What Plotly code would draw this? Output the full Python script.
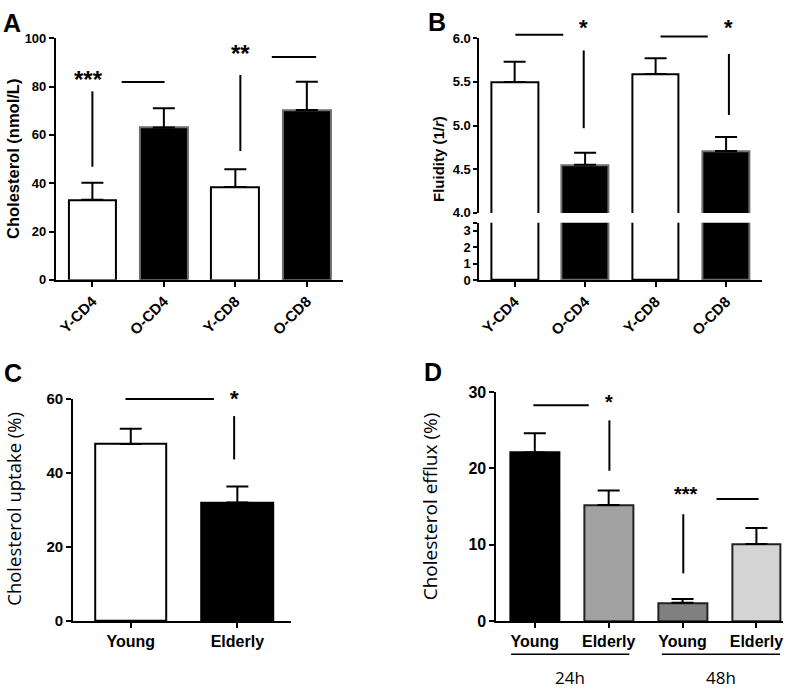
import plotly.graph_objects as go

# ---- data ----
cell_groups = ["Y-CD4", "O-CD4", "Y-CD8", "O-CD8"]
chol_mean = [33.1, 63.0, 38.4, 70.3]
chol_sem = [7.1, 8.0, 7.4, 11.7]

fluid_mean = [5.50, 4.55, 5.59, 4.71]
fluid_sem = [0.23, 0.14, 0.18, 0.16]

uptake_groups = ["Young", "Elderly"]
uptake_mean = [47.8, 32.0]
uptake_sem = [4.1, 4.3]

efflux_groups = ["Young", "Elderly", "Young", "Elderly"]
efflux_times = ["24h", "48h"]
efflux_mean = [22.1, 15.2, 2.4, 10.1]
efflux_sem = [2.5, 1.9, 0.5, 2.1]

BOLD = "Liberation Sans"
PLAIN = "Open Sans"

# ---- panel geometry (paper fractions) ----
W, H = 794, 698
def hx(p): return p / W
def vy(p): return 1 - p / H

dom = {
    "A": ([hx(55), hx(342)], [vy(278), vy(30)]),
    "Bu": ([hx(479), hx(762)], [vy(209.3), vy(30)]),
    "Bl": ([hx(479), hx(762)], [vy(278.3), vy(219.3)]),
    "C": ([hx(72.3), hx(290)], [vy(628.3), vy(400)]),
    "D": ([hx(496), hx(783)], [vy(628.3), vy(393.3)]),
}
xr = {"A": [-0.51, 3.5], "B": [-0.5, 3.51], "C": [-0.54, 1.5], "D": [-0.52, 3.36]}
yr = {"A": [0, 100], "Bu": [4, 6], "Bl": [0, 3.5], "C": [0, 60], "D": [0, 30]}


def to_paper(d, r, v):
    return d[0] + (v - r[0]) / (r[1] - r[0]) * (d[1] - d[0])


def bar_trace(means, sems, fills, edges, width, xa, ya, errors=True):
    return go.Bar(
        x=list(range(len(means))), y=means, width=width,
        marker=dict(color=fills, line=dict(color=edges, width=2)),
        error_y=dict(type="data", symmetric=False, array=sems,
                     arrayminus=[0] * len(sems), thickness=2, width=11,
                     color="black", visible=errors),
        xaxis=xa, yaxis=ya, showlegend=False, hoverinfo="skip",
    )


fig = go.Figure()
wb = ["white", "black", "white", "black"]
edges_wb = ["black", "#6e6e6e", "black", "#6e6e6e"]
fig.add_trace(bar_trace(chol_mean, chol_sem, wb, edges_wb, 0.67, "x", "y"))
fig.add_trace(bar_trace(fluid_mean, fluid_sem, wb, edges_wb, 0.66, "x2", "y2"))
fig.add_trace(bar_trace(fluid_mean, fluid_sem, wb, edges_wb, 0.66, "x3", "y3", errors=False))
fig.add_trace(bar_trace(uptake_mean, uptake_sem, ["white", "black"], ["black", "black"], 0.67, "x4", "y4"))
fig.add_trace(bar_trace(efflux_mean, efflux_sem, ["black", "#a2a2a2", "#808080", "#d4d4d4"],
                        ["black", "#222222", "#222222", "#222222"], 0.66, "x5", "y5"))


def xaxis(d, r, labels, anchor, angle=0, size=14, visible=True):
    return dict(domain=d, range=r, anchor=anchor, visible=visible,
                tickvals=list(range(len(labels))), ticktext=labels, tickangle=angle,
                showline=True, linecolor="black", linewidth=2,
                ticks="outside", ticklen=5, tickwidth=2, tickcolor="black",
                showgrid=False, zeroline=False, fixedrange=True,
                tickfont=dict(family=BOLD, size=size, color="black", weight="bold"))


def yaxis(d, r, vals, texts, anchor, size=12, ticklen=5):
    return dict(domain=d, range=r, anchor=anchor,
                tickvals=vals, ticktext=texts,
                showline=True, linecolor="black", linewidth=2,
                ticks="outside", ticklen=ticklen, tickwidth=2, tickcolor="black",
                showgrid=False, zeroline=False, fixedrange=True,
                tickfont=dict(family=BOLD, size=size, color="black", weight="bold"))


fig.update_layout(
    width=W, height=H, margin=dict(l=0, r=0, t=0, b=0),
    paper_bgcolor="white", plot_bgcolor="white", bargap=0,
    xaxis=xaxis(dom["A"][0], xr["A"], cell_groups, "y", angle=-45, size=15),
    yaxis=yaxis(dom["A"][1], yr["A"], [0, 20, 40, 60, 80, 100],
                ["0", "20", "40", "60", "80", "100"], "x", size=13),
    xaxis2=xaxis(dom["Bu"][0], xr["B"], cell_groups, "y2", visible=False),
    yaxis2=yaxis(dom["Bu"][1], yr["Bu"], [4, 4.5, 5, 5.5, 6],
                 ["4.0", "4.5", "5.0", "5.5", "6.0"], "x2", size=13, ticklen=4),
    xaxis3=xaxis(dom["Bl"][0], xr["B"], cell_groups, "y3", angle=-45, size=15),
    yaxis3=yaxis(dom["Bl"][1], yr["Bl"], [0, 1, 2, 3, 3.5],
                 ["0", "1", "2", "3", ""], "x3", size=13, ticklen=4),
    xaxis4=xaxis(dom["C"][0], xr["C"], uptake_groups, "y4", size=16),
    yaxis4=yaxis(dom["C"][1], yr["C"], [0, 20, 40, 60], ["0", "20", "40", "60"], "x4", size=15),
    xaxis5=xaxis(dom["D"][0], xr["D"], efflux_groups, "y5", size=16),
    yaxis5=yaxis(dom["D"][1], yr["D"], [0, 10, 20, 30], ["0", "10", "20", "30"], "x5", size=16),
)

# ---- significance marks (in data units of each panel) ----
sig_lines = [
    ("A", "A", 0, 0, 46.8, 78), ("A", "A", 0.41, 1.01, 81.9, 81.9),
    ("A", "A", 2.07, 2.07, 53.3, 84.8), ("A", "A", 2.51, 3.13, 92.2, 92.2),
    ("B", "Bu", 0.01, 0.69, 6.04, 6.04), ("B", "Bu", 0.98, 0.98, 4.97, 5.86),
    ("B", "Bu", 2.07, 2.74, 6.02, 6.02), ("B", "Bu", 3.04, 3.04, 5.12, 5.82),
    ("C", "C", -0.05, 0.78, 59.9, 59.9), ("C", "C", 0.97, 0.97, 43.6, 55.3),
    ("D", "D", -0.02, 0.73, 28.3, 28.3), ("D", "D", 1.01, 1.01, 19.7, 26.3),
    ("D", "D", 2.01, 2.01, 6.26, 14.0), ("D", "D", 2.46, 3.03, 16.0, 16.0),
]
for px_, py_, x0, x1, y0, y1 in sig_lines:
    dx = dom[py_][0]
    dy = dom[py_][1]
    fig.add_shape(type="line", xref="paper", yref="paper",
                  x0=to_paper(dx, xr[px_], x0), x1=to_paper(dx, xr[px_], x1),
                  y0=to_paper(dy, yr[py_], y0), y1=to_paper(dy, yr[py_], y1),
                  line=dict(color="black", width=2))

stars = [
    ("A", "A", -0.05, 83, "***", 24), ("A", "A", 2.07, 93.5, "**", 24),
    ("B", "Bu", 0.97, 6.12, "*", 22), ("B", "Bu", 3.04, 6.12, "*", 22),
    ("C", "C", 0.97, 60, "*", 22), ("D", "D", 1.0, 28.7, "*", 20),
    ("D", "D", 2.05, 16.6, "***", 20),
]
for px_, py_, x, y, s, fs in stars:
    fig.add_annotation(xref="paper", yref="paper", showarrow=False,
                       x=to_paper(dom[py_][0], xr[px_], x),
                       y=to_paper(dom[py_][1], yr[py_], y),
                       xanchor="center", yanchor="middle",
                       text=s, font=dict(family=BOLD, size=fs, color="black", weight="bold"))

# ---- time groups under panel D ----
group_spans = [(-0.32, 1.28), (1.72, 3.32)]
for (g0, g1), lab in zip(group_spans, efflux_times):
    fig.add_shape(type="line", xref="paper", yref="paper",
                  x0=to_paper(dom["D"][0], xr["D"], g0), x1=to_paper(dom["D"][0], xr["D"], g1),
                  y0=vy(662.3), y1=vy(662.3), line=dict(color="black", width=1.5))
    fig.add_annotation(xref="paper", yref="paper", showarrow=False,
                       x=to_paper(dom["D"][0], xr["D"], (g0 + g1) / 2), y=vy(686.7),
                       xanchor="center", yanchor="middle", text=lab,
                       font=dict(family=PLAIN, size=17, color="black"))

# ---- axis titles ----
titles = [
    (12, 154, "Cholesterol (nmol/L)", BOLD, 16.5, "bold"),
    (438, 153.5, "Fluidity (1/<i>r</i>)", BOLD, 15, "bold"),
    (13, 513, "Cholesterol uptake (%)", PLAIN, 18.5, "normal"),
    (429, 510, "Cholesterol efflux (%)", PLAIN, 19, "normal"),
]
for x, y, t, fam, fs, w in titles:
    fig.add_annotation(xref="paper", yref="paper", showarrow=False,
                       x=hx(x), y=vy(y), xanchor="center", yanchor="middle",
                       textangle=-90, text=t,
                       font=dict(family=fam, size=fs, color="black", weight=w))

# ---- panel letters ----
for x, y, letter in [(0, 14, "A"), (426, 13, "B"), (1, 373.5, "C"), (422, 372.5, "D")]:
    fig.add_annotation(xref="paper", yref="paper", showarrow=False,
                       x=hx(x), y=vy(y), xanchor="left", yanchor="middle", text=letter,
                       font=dict(family=BOLD, size=25, color="black", weight="bold"))

# page body has a default 8px margin; drop it so the figure sits at the window origin
fig.write_html("out.html", config={"displayModeBar": False},
               post_script="document.body.style.margin='0px';")
